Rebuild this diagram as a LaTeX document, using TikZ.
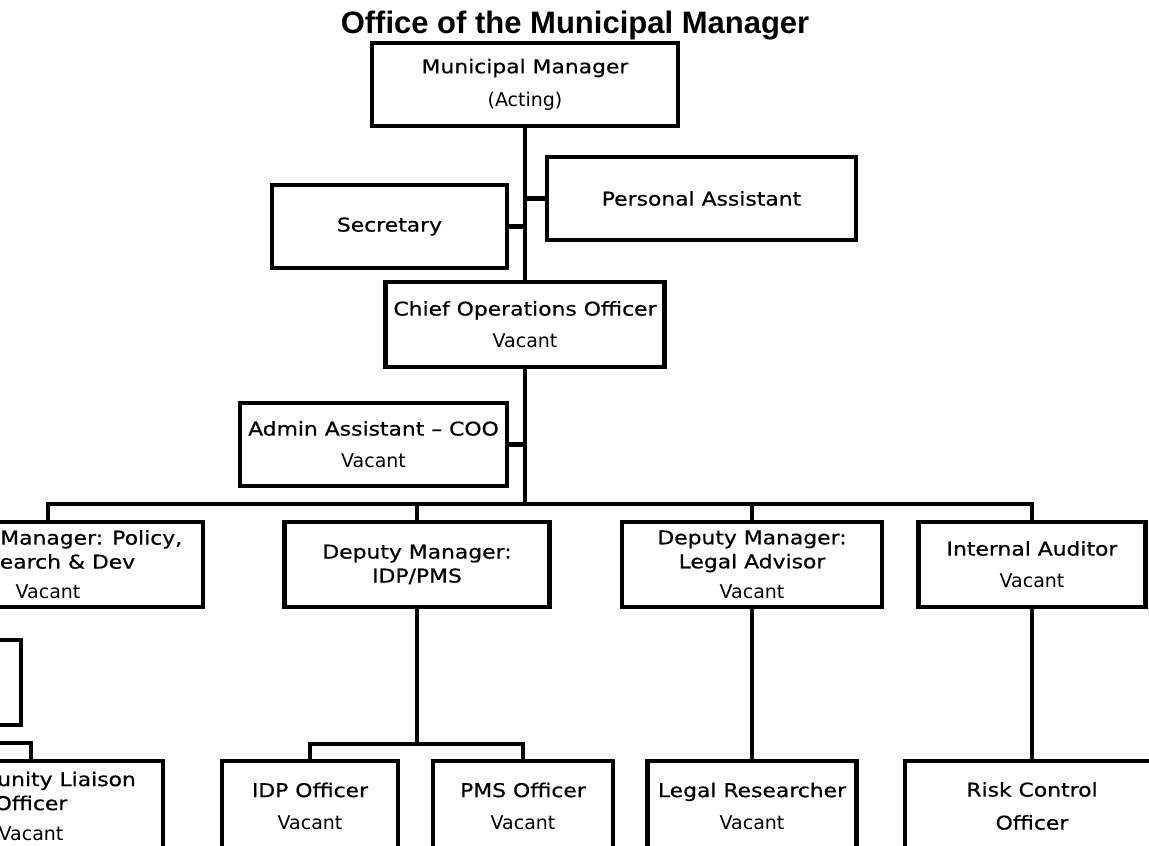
\documentclass[tikz,border=0pt]{standalone}
\usepackage{fontspec}
\setmainfont{DejaVu Sans}
\newfontfamily\namefont[FakeStretch=1.15, FakeBold=0.6]{DejaVu Sans}
\newfontfamily\headfont{Liberation Sans}
\usepackage{tikz}

\begin{document}
\begin{tikzpicture}[x=1pt, y=-1pt]

    \tikzstyle{post}=[draw, line width=4.2pt, align=center, inner sep=0pt, font=\namefont\fontsize{19}{24}\selectfont];
    \tikzstyle{link}=[line width=4.2pt];

    \useasboundingbox (0,0) rectangle (1149,846);
    \clip (0,0) rectangle (1149,846);

    \node [anchor=base, font=\headfont\bfseries\fontsize{31}{36}\selectfont](title) at (575, 33){Office of the Municipal Manager};

    \node [post, minimum width=306, minimum height=83](mm) at (525, 84.5){Municipal Manager\\[9pt]{\rmfamily (Acting)}};
    \node [post, minimum width=309, minimum height=83](pa) at (701.5, 198.5){Personal Assistant};
    \node [post, minimum width=235, minimum height=83](sec) at (389.5, 226.5){Secretary};
    \node [post, minimum width=279, minimum height=85](coo) at (525, 324.5){Chief Operations Officer\\[8pt]{\rmfamily Vacant}};
    \node [post, minimum width=267, minimum height=83](adm) at (373.5, 444.5){Admin Assistant – COO\\[8pt]{\rmfamily Vacant}};

    \node [post, minimum width=310, minimum height=85](dmpol) at (48, 564.5){Deputy Manager: Policy,\\Research \& Dev\\[6pt]{\rmfamily Vacant}};
    \node [post, minimum width=265, minimum height=85](dmidp) at (417, 564.5){Deputy Manager:\\IDP/PMS};
    \node [post, minimum width=260, minimum height=85](dmlegal) at (752, 564.5){Deputy Manager:\\Legal Advisor\\[6pt]{\rmfamily Vacant}};
    \node [post, minimum width=227, minimum height=85](ia) at (1032, 564.5){Internal Auditor\\[8pt]{\rmfamily Vacant}};

    \node [post, minimum width=162, minimum height=85](polsub) at (-60, 682.5){};
    \node [post, minimum width=264, minimum height=90](cloff) at (31, 806){Community Liaison\\Officer\\[6pt]{\rmfamily Vacant}};
    \node [post, minimum width=176, minimum height=90](idpoff) at (310, 806){IDP Officer\\[8pt]{\rmfamily Vacant}};
    \node [post, minimum width=180, minimum height=90](pmsoff) at (523, 806){PMS Officer\\[8pt]{\rmfamily Vacant}};
    \node [post, minimum width=209, minimum height=90](legres) at (752, 806){Legal Researcher\\[8pt]{\rmfamily Vacant}};
    \node [post, minimum width=254, minimum height=90](risk) at (1032, 806){Risk Control\\[9pt]Officer};

    \coordinate (bus) at (525, 504);
    \coordinate (idpbus) at (417, 744);
    \coordinate (clbus) at (-120, 743);

    \draw [link] (mm) -- (coo);
    \draw [link] (sec) -- (sec -| mm);
    \draw [link] (pa) -- (pa -| mm);
    \draw [link] (coo) -- (bus);
    \draw [link] (adm) -- (adm -| bus);
    \draw [link] (dmpol.north) |- (bus);
    \draw [link] (ia.north) |- (bus);
    \draw [link] (dmidp) -- (dmidp |- bus);
    \draw [link] (dmlegal) -- (dmlegal |- bus);
    \draw [link] (dmidp) -- (idpbus);
    \draw [link] (idpoff.north) |- (idpbus);
    \draw [link] (pmsoff.north) |- (idpbus);
    \draw [link] (dmlegal) -- (legres);
    \draw [link] (ia) -- (risk);
    \draw [link] (cloff.north) |- (clbus);

\end{tikzpicture}
\end{document}
